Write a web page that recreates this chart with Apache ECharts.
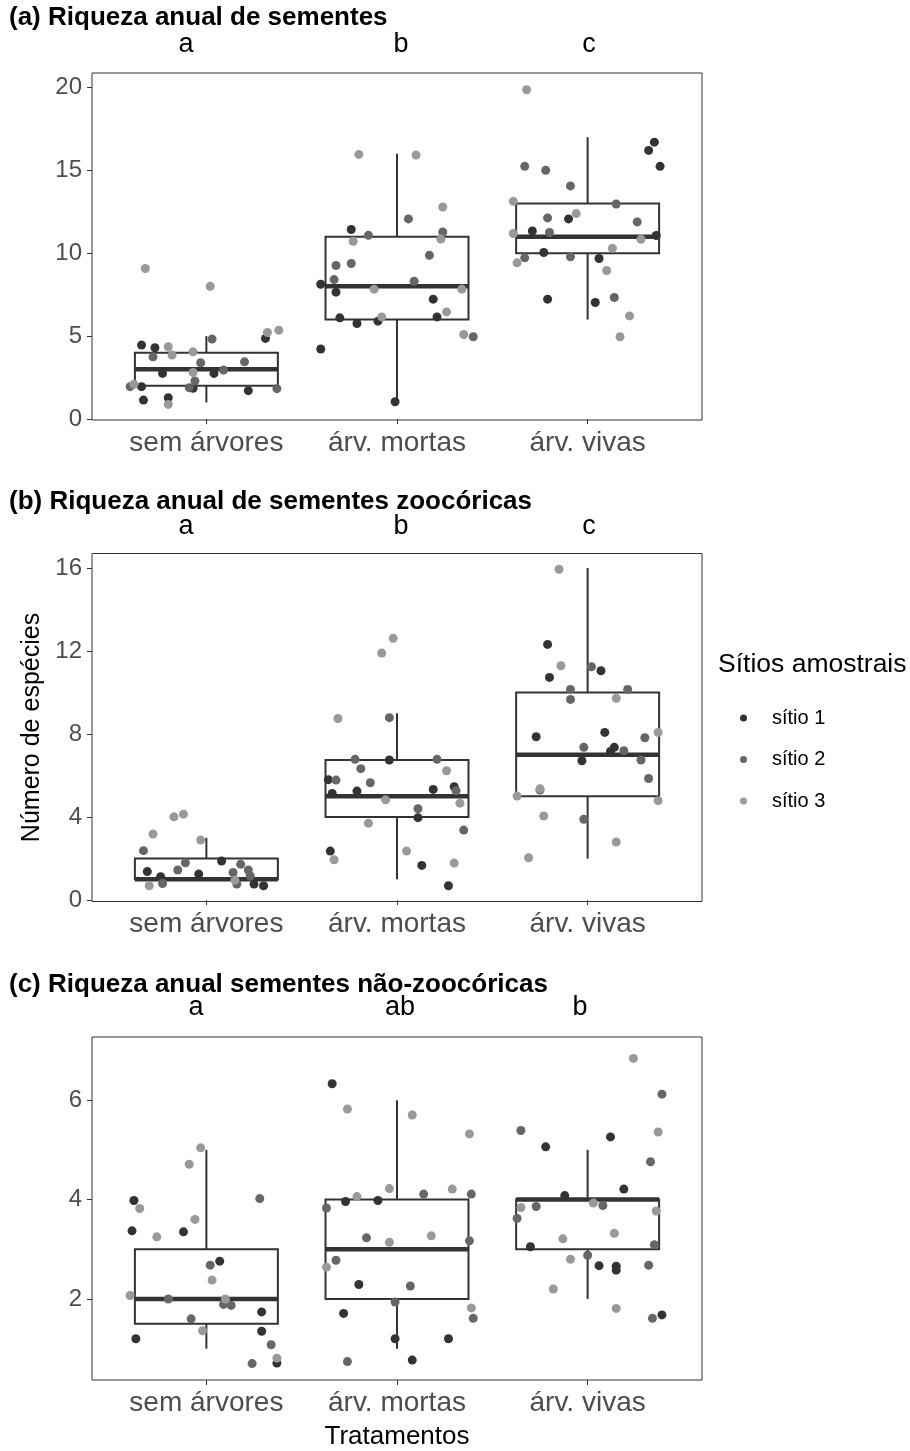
<!DOCTYPE html>
<html>
<head>
<meta charset="utf-8">
<script src="https://cdn.jsdelivr.net/npm/echarts@6/dist/echarts.min.js"></script>
<style>
  html, body { margin: 0; padding: 0; background: #fff; }
  #chart { width: 910px; height: 1451px; }
</style>
</head>
<body>
<div id="chart"></div>
<script>
// --- data ---
const categories = ['sem árvores', 'árv. mortas', 'árv. vivas'];
const sites = ['sítio 1', 'sítio 2', 'sítio 3'];
const panelTitles = [
  '(a) Riqueza anual de sementes',
  '(b) Riqueza anual de sementes zoocóricas',
  '(c) Riqueza anual sementes não-zoocóricas'
];
const groupLetters = [['a', 'b', 'c'], ['a', 'b', 'c'], ['a', 'ab', 'b']];
const yTicks = [[0, 5, 10, 15, 20], [0, 4, 8, 12, 16], [2, 4, 6]];

// box stats per category: [lower whisker, q1, median, q3, upper whisker]
const boxA = [[1, 2, 3, 4, 5], [1, 6, 8, 11, 16], [6, 10, 11, 13, 17]];
const boxB = [[1, 1, 1, 2, 3], [1, 4, 5, 6.75, 9], [2, 5, 7, 10, 16]];
const boxC = [[1, 1.5, 2, 3, 5], [1, 2, 3, 4, 6], [2, 3, 4, 4, 5]];

// jittered points: [category, x jitter, value, site]
const pointsA = [
  [1,-0.32,9.08,3],[1,0.02,8.0,3],[1,0.38,5.36,3],[1,0.32,5.22,3],[1,0.31,4.86,1],
  [1,0.03,4.82,2],[1,-0.34,4.46,1],[1,-0.27,4.3,1],[1,-0.2,4.36,3],[1,-0.18,3.86,3],
  [1,-0.07,4.05,3],[1,-0.28,3.75,2],[1,-0.03,3.39,2],[1,0.2,3.45,2],[1,-0.23,2.75,1],
  [1,-0.07,2.81,3],[1,0.04,2.75,1],[1,0.09,2.95,2],[1,-0.06,2.29,2],[1,-0.4,1.95,2],
  [1,-0.38,2.1,3],[1,-0.34,1.95,1],[1,-0.09,1.89,2],[1,-0.07,1.85,1],[1,0.22,1.71,1],
  [1,0.37,1.83,2],[1,-0.33,1.14,1],[1,-0.2,1.28,1],[1,-0.2,0.88,3],
  [2,-0.2,15.96,3],[2,0.1,15.92,3],[2,0.24,12.79,3],[2,0.06,12.07,2],[2,-0.24,11.43,1],
  [2,-0.15,11.08,2],[2,0.24,11.28,2],[2,0.23,10.86,3],[2,-0.23,10.72,3],[2,0.17,9.88,2],
  [2,-0.32,9.26,2],[2,-0.24,9.38,2],[2,-0.33,8.41,2],[2,-0.4,8.13,1],[2,-0.32,7.65,1],
  [2,-0.12,7.83,3],[2,0.09,8.31,2],[2,0.34,7.83,3],[2,0.19,7.23,1],[2,0.26,6.46,3],
  [2,-0.3,6.1,1],[2,-0.21,5.76,1],[2,-0.1,5.9,1],[2,-0.08,6.16,3],[2,0.21,6.16,1],
  [2,0.35,5.1,3],[2,0.4,4.96,2],[2,-0.4,4.22,1],[2,-0.01,1.04,1],
  [3,-0.32,19.86,3],[3,0.35,16.7,1],[3,0.32,16.2,1],[3,0.38,15.24,1],[3,-0.33,15.24,2],
  [3,-0.22,15.0,2],[3,-0.09,14.06,2],[3,-0.39,13.13,3],[3,0.15,12.97,2],[3,-0.21,12.13,2],
  [3,-0.1,12.07,1],[3,-0.06,12.39,3],[3,0.26,11.89,2],[3,-0.29,11.34,1],[3,-0.2,11.25,2],
  [3,-0.39,11.19,3],[3,0.36,11.07,1],[3,0.28,10.84,3],[3,0.13,10.3,3],[3,-0.23,10.04,1],
  [3,-0.09,9.78,2],[3,-0.33,9.72,2],[3,-0.37,9.42,3],[3,0.06,9.68,1],[3,0.1,8.96,3],
  [3,-0.21,7.23,1],[3,0.04,7.03,1],[3,0.14,7.33,2],[3,0.22,6.22,3],[3,0.17,4.96,3]
];
const pointsB = [
  [1,-0.12,4.14,3],[1,-0.17,4.01,3],[1,-0.28,3.18,3],[1,-0.03,2.89,3],[1,-0.33,2.38,2],
  [1,0.08,1.88,1],[1,-0.11,1.8,2],[1,0.18,1.72,2],[1,0.22,1.45,2],[1,-0.15,1.45,2],
  [1,-0.31,1.37,1],[1,0.14,1.33,2],[1,-0.24,1.12,1],[1,-0.04,1.25,1],[1,0.23,1.16,2],
  [1,0.15,0.96,3],[1,-0.23,0.8,2],[1,-0.3,0.69,3],[1,0.25,0.77,1],[1,0.3,0.69,1],
  [1,0.16,0.77,2],
  [2,-0.02,12.61,3],[2,-0.08,11.9,3],[2,-0.31,8.75,3],[2,-0.04,8.79,2],[2,-0.22,6.78,2],
  [2,-0.04,6.75,1],[2,0.21,6.78,2],[2,-0.19,6.33,2],[2,0.26,6.23,3],[2,-0.36,5.8,1],
  [2,-0.32,5.78,2],[2,-0.14,5.65,2],[2,-0.34,5.14,1],[2,-0.21,5.25,1],[2,0.19,5.33,1],
  [2,0.3,5.46,1],[2,0.31,5.27,2],[2,-0.06,4.83,3],[2,0.33,4.67,3],[2,0.11,4.4,2],
  [2,0.11,3.97,1],[2,-0.15,3.7,3],[2,0.35,3.37,2],[2,-0.35,2.36,1],[2,-0.33,1.94,3],
  [2,0.05,2.36,3],[2,0.13,1.67,1],[2,0.3,1.78,3],[2,0.27,0.69,1],
  [3,-0.15,15.94,3],[3,-0.21,12.32,1],[3,-0.14,11.29,3],[3,0.02,11.24,2],[3,0.07,11.05,1],
  [3,-0.2,10.73,1],[3,-0.09,10.15,2],[3,0.21,10.15,2],[3,-0.09,9.67,2],[3,0.15,9.72,3],
  [3,-0.27,7.87,1],[3,0.09,8.08,1],[3,0.37,8.08,3],[3,0.3,7.82,2],[3,-0.02,7.36,2],
  [3,0.14,7.36,1],[3,0.12,7.16,1],[3,0.19,7.2,2],[3,-0.03,6.71,1],[3,0.28,6.75,2],
  [3,0.32,5.86,2],[3,-0.25,5.3,2],[3,-0.25,5.36,3],[3,-0.37,5.01,3],[3,0.37,4.79,3],
  [3,-0.23,4.05,3],[3,-0.02,3.89,2],[3,0.15,2.8,3],[3,-0.31,2.04,3]
];
const pointsC = [
  [1,-0.03,5.04,3],[1,-0.09,4.71,3],[1,0.28,4.02,2],[1,-0.38,3.98,1],[1,-0.35,3.82,3],
  [1,-0.06,3.6,3],[1,-0.39,3.37,1],[1,-0.12,3.35,1],[1,-0.26,3.25,3],[1,0.07,2.76,1],
  [1,0.02,2.68,2],[1,0.03,2.38,3],[1,-0.4,2.07,3],[1,-0.2,2.0,2],[1,0.1,2.0,3],
  [1,0.09,1.89,2],[1,0.13,1.87,2],[1,0.29,1.74,1],[1,-0.08,1.6,2],[1,-0.02,1.36,3],
  [1,-0.37,1.2,1],[1,0.29,1.35,1],[1,0.34,1.08,2],[1,0.37,0.71,1],[1,0.37,0.81,3],
  [1,0.24,0.7,2],
  [2,-0.34,6.33,1],[2,-0.26,5.82,3],[2,0.08,5.7,3],[2,0.38,5.32,3],[2,-0.04,4.22,3],
  [2,-0.21,4.06,3],[2,-0.27,3.96,1],[2,-0.1,3.98,1],[2,0.14,4.11,2],[2,0.29,4.21,3],
  [2,0.39,4.11,2],[2,-0.37,3.83,2],[2,-0.16,3.23,2],[2,-0.04,3.14,3],[2,0.18,3.27,3],
  [2,0.38,3.17,2],[2,-0.32,2.78,2],[2,-0.37,2.64,3],[2,-0.2,2.29,1],[2,0.07,2.26,2],
  [2,-0.01,1.94,2],[2,-0.28,1.71,1],[2,0.39,1.82,3],[2,0.4,1.61,2],[2,-0.01,1.2,1],
  [2,0.27,1.2,1],[2,-0.26,0.74,2],[2,0.08,0.77,1],
  [3,0.24,6.84,3],[3,0.39,6.12,2],[3,-0.35,5.39,2],[3,0.37,5.36,3],[3,0.12,5.26,1],
  [3,-0.22,5.06,1],[3,0.33,4.76,2],[3,0.19,4.21,1],[3,-0.12,4.08,1],[3,0.03,3.93,3],
  [3,0.08,3.88,2],[3,-0.35,3.84,3],[3,-0.27,3.86,2],[3,-0.37,3.62,2],[3,0.36,3.77,3],
  [3,-0.13,3.21,3],[3,0.14,3.32,3],[3,-0.3,3.05,1],[3,0.35,3.09,2],[3,-0.09,2.8,3],
  [3,0.0,2.88,2],[3,0.06,2.67,1],[3,0.15,2.66,1],[3,0.15,2.58,1],[3,0.32,2.68,2],
  [3,-0.18,2.2,3],[3,0.15,1.81,3],[3,0.39,1.68,1],[3,0.34,1.61,2]
];

// --- layout / style ---
const FONT = 'Liberation Sans, Arial, sans-serif';
const siteColors = ['#333333', '#666666', '#999999'];
const lineCol = '#333333';
const boxes = [boxA, boxB, boxC];
const points = [pointsA, pointsB, pointsC];
const layout = [
  { top: 73, height: 347, ymin: -0.06, ymax: 20.87, titleTop: 5, letterY: 45, letterX: [186, 401, 589] },
  { top: 553.5, height: 348, ymin: -0.07, ymax: 16.7, titleTop: 489, letterY: 527, letterX: [186, 401, 589] },
  { top: 1037, height: 347, ymin: 0.37, ymax: 7.27, titleTop: 972, letterY: 1008, letterX: [196, 400, 580] }
];

function renderBox(params, api) {
  const x = api.value(0);
  const lo = api.coord([x, api.value(1)]);
  const q1 = api.coord([x + 0.375, api.value(2)]);
  const md = api.coord([x, api.value(3)]);
  const q3 = api.coord([x - 0.375, api.value(4)]);
  const hi = api.coord([x, api.value(5)]);
  return {
    type: 'group',
    children: [
      { type: 'line', shape: { x1: hi[0], y1: hi[1], x2: hi[0], y2: q3[1] }, style: { stroke: lineCol, lineWidth: 2 } },
      { type: 'line', shape: { x1: lo[0], y1: q1[1], x2: lo[0], y2: lo[1] }, style: { stroke: lineCol, lineWidth: 2 } },
      { type: 'rect', shape: { x: q3[0], y: q3[1], width: q1[0] - q3[0], height: q1[1] - q3[1] },
        style: { fill: '#fff', stroke: lineCol, lineWidth: 2 } },
      { type: 'line', shape: { x1: q3[0], y1: md[1], x2: q1[0], y2: md[1] }, style: { stroke: lineCol, lineWidth: 4.5 } }
    ]
  };
}

const grid = [], xAxis = [], yAxis = [], series = [], title = [], graphic = [];
layout.forEach((L, k) => {
  grid.push({ left: 92, width: 610, top: L.top, height: L.height, show: true,
    borderColor: '#333333', borderWidth: 1, backgroundColor: '#fff' });
  xAxis.push({
    type: 'value', gridIndex: k, min: 0.4, max: 3.6,
    name: k === 2 ? 'Tratamentos' : '', nameLocation: 'middle', nameGap: 44,
    nameTextStyle: { fontFamily: FONT, fontSize: 26, color: '#000' },
    axisLine: { show: false },
    axisTick: { show: true, length: 5, customValues: [1, 2, 3], lineStyle: { color: '#333333' } },
    axisLabel: { customValues: [1, 2, 3], margin: 9, fontFamily: FONT, fontSize: 28, color: '#4d4d4d',
      formatter: v => categories[Math.round(v) - 1] },
    splitLine: { show: false }
  });
  yAxis.push({
    type: 'value', gridIndex: k, min: L.ymin, max: L.ymax,
    name: k === 1 ? 'Número de espécies' : '', nameLocation: 'middle', nameGap: 46, nameRotate: 90,
    nameTextStyle: { fontFamily: FONT, fontSize: 25, color: '#000' },
    axisLine: { show: false },
    axisTick: { show: true, length: 5, customValues: yTicks[k], lineStyle: { color: '#333333' } },
    axisLabel: { customValues: yTicks[k], margin: 10, fontFamily: FONT, fontSize: 24, color: '#4d4d4d' },
    splitLine: { show: false }
  });
  series.push({
    type: 'custom', xAxisIndex: k, yAxisIndex: k, z: 2, silent: true,
    renderItem: renderBox,
    data: boxes[k].map((b, i) => [i + 1].concat(b))
  });
  sites.forEach((s, j) => {
    series.push({
      type: 'scatter', name: s, xAxisIndex: k, yAxisIndex: k, z: 5,
      symbolSize: 9, itemStyle: { color: siteColors[j], opacity: 1 },
      data: points[k].filter(p => p[3] === j + 1).map(p => [p[0] + p[1], p[2]])
    });
  });
  title.push({ text: panelTitles[k], left: 9, top: L.titleTop, padding: 0,
    textStyle: { fontFamily: FONT, fontSize: 26, fontWeight: 'bold', color: '#000' } });
  groupLetters[k].forEach((t, i) => {
    graphic.push({ type: 'text', x: L.letterX[i], y: L.letterY,
      style: { text: t, fontFamily: FONT, fontSize: 27, fill: '#000', align: 'center', verticalAlign: 'middle' } });
  });
});
graphic.push({ type: 'text', x: 718, y: 665,
  style: { text: 'Sítios amostrais', fontFamily: FONT, fontSize: 26.5, fill: '#000', verticalAlign: 'middle' } });

const chart = echarts.init(document.getElementById('chart'), null, { renderer: 'canvas' });
chart.setOption({
  backgroundColor: '#fff',
  animation: false,
  title: title,
  grid: grid,
  xAxis: xAxis,
  yAxis: yAxis,
  legend: {
    data: sites, orient: 'vertical', left: 735, top: 703, icon: 'circle',
    itemWidth: 7, itemHeight: 7, itemGap: 21.5, selectedMode: false,
    textStyle: { fontFamily: FONT, fontSize: 20, color: '#000', lineHeight: 20, padding: [0, 0, 0, 20] }
  },
  graphic: graphic,
  series: series
});
</script>
</body>
</html>
